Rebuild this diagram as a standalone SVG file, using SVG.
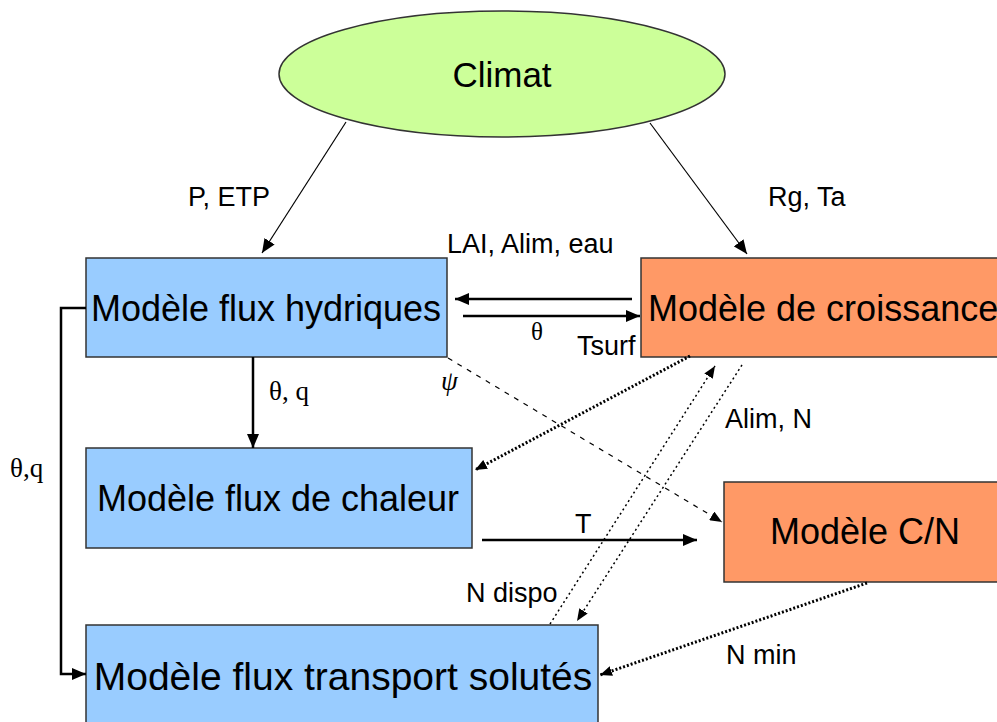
<svg xmlns="http://www.w3.org/2000/svg" width="997" height="722" viewBox="0 0 997 722">
<style>
.box{stroke:#333;stroke-width:1.5}
.blue{fill:#99ccff}
.orange{fill:#ff9966}
.lbl{font-family:"Liberation Sans",Arial,sans-serif;font-size:36px;fill:#000}
.sm{font-family:"Liberation Sans",Arial,sans-serif;font-size:27px;fill:#000}
.gr{font-family:"Liberation Serif","Times New Roman",serif;font-size:27px;fill:#000}
.c{fill:none;stroke:#000}
.thick{stroke-width:2.5}
.thin{stroke-width:1.2}
.dash{stroke-width:1.2;stroke-dasharray:5 6}
.dotb{stroke-width:3;stroke-dasharray:2 2}
.dots{stroke-width:1.5;stroke-dasharray:2 3}
</style>
<defs>
<marker id="ah" viewBox="0 0 14 12" refX="14" refY="6" markerWidth="14" markerHeight="12" markerUnits="userSpaceOnUse" orient="auto"><path d="M0,0 L14,6 L0,12 z" fill="#000"/></marker>
<marker id="as" viewBox="0 0 12 10" refX="12" refY="5" markerWidth="12" markerHeight="10" markerUnits="userSpaceOnUse" orient="auto"><path d="M0,0 L12,5 L0,10 z" fill="#000"/></marker>
</defs>
<rect width="997" height="722" fill="#fff"/>
<g id="climat">
<ellipse cx="502" cy="74" rx="223" ry="63" fill="#ccff99" stroke="#333" stroke-width="1.5"/>
<text class="lbl" x="502" y="87" text-anchor="middle" style="font-size:35px">Climat</text>
</g>
<g id="hydriques">
<rect class="box blue" x="86" y="258" width="361" height="99"/>
<text class="lbl" x="266" y="321" text-anchor="middle">Modèle flux hydriques</text>
</g>
<g id="croissance">
<rect class="box orange" x="641" y="258" width="370" height="99"/>
<text class="lbl" x="648" y="321">Modèle de croissance</text>
</g>
<g id="chaleur">
<rect class="box blue" x="86" y="448" width="386" height="100"/>
<text class="lbl" x="278" y="511" text-anchor="middle">Modèle flux de chaleur</text>
</g>
<g id="cn">
<rect class="box orange" x="724" y="482" width="290" height="100"/>
<text class="lbl" x="865" y="544" text-anchor="middle">Modèle C/N</text>
</g>
<g id="transport">
<rect class="box blue" x="86" y="625" width="512" height="110"/>
<text class="lbl" x="343" y="690" text-anchor="middle" style="font-size:39px">Modèle flux transport solutés</text>
</g>
<g id="connectors">
<line class="c thin" x1="346" y1="122" x2="262" y2="253" marker-end="url(#ah)"/>
<line class="c thin" x1="650" y1="123" x2="747" y2="254" marker-end="url(#ah)"/>
<line class="c thick" x1="632" y1="299" x2="455" y2="299" marker-end="url(#ah)"/>
<line class="c thick" x1="463" y1="316" x2="640" y2="316" marker-end="url(#ah)"/>
<line class="c thick" x1="253" y1="357" x2="253" y2="448" marker-end="url(#ah)"/>
<path class="c" stroke-width="2.5" d="M86,308 H61 V674 H86" marker-end="url(#ah)"/>
<line class="c thick" x1="482" y1="540" x2="697" y2="540" marker-end="url(#ah)"/>
<line class="c dash" x1="448" y1="358" x2="722" y2="522" marker-end="url(#as)"/>
<line class="c dotb" x1="690" y1="356" x2="475" y2="470" marker-end="url(#as)"/>
<line class="c dots" x1="550" y1="624" x2="715" y2="366" marker-end="url(#as)"/>
<line class="c dots" x1="742" y1="365" x2="577" y2="621" marker-end="url(#as)"/>
<line class="c dotb" x1="867" y1="583" x2="600" y2="675" marker-end="url(#as)"/>
</g>
<g id="labels">
<text class="sm" x="188" y="206">P, ETP</text>
<text class="sm" x="768" y="206">Rg, Ta</text>
<text class="sm" x="447" y="253">LAI, Alim, eau</text>
<text class="gr" x="531" y="340" style="font-size:25px">θ</text>
<text class="sm" x="577" y="355">Tsurf</text>
<text class="gr" x="269" y="400">θ, q</text>
<text class="gr" x="441" y="390" font-style="italic">ψ</text>
<text class="gr" x="10" y="477">θ,q</text>
<text class="sm" x="725" y="428">Alim, N</text>
<text class="sm" x="575" y="533">T</text>
<text class="sm" x="466" y="602">N dispo</text>
<text class="sm" x="726" y="664">N min</text>
</g>
</svg>
